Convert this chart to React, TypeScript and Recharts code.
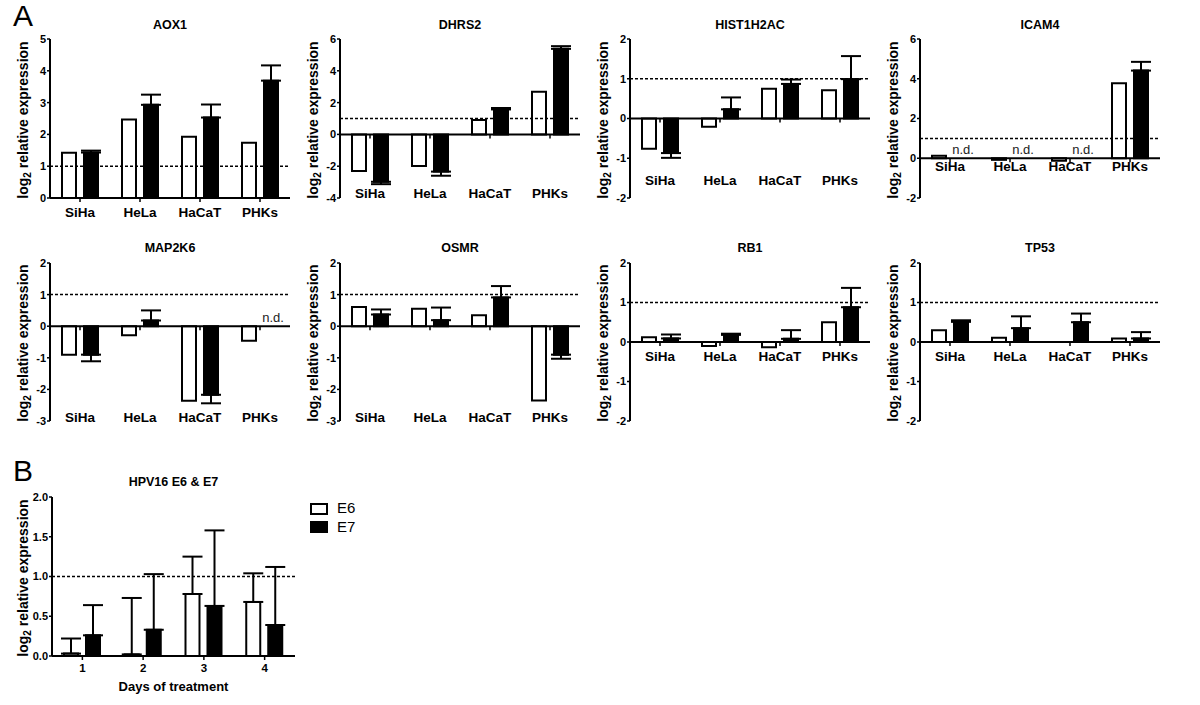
import React from 'react';
import { Bar, BarChart, ErrorBar, ReferenceLine, XAxis, YAxis } from 'recharts';

const FONT = '"Liberation Sans", Arial, Helvetica, sans-serif';

// categories
const cellLines = ['SiHa', 'HeLa', 'HaCaT', 'PHKs'];
const days = ['1', '2', '3', '4'];

// panel A values: open bars, filled bars, filled error (away from zero)
const aox1Open = [1.42, 2.47, 1.93, 1.74];
const aox1Filled = [1.43, 2.93, 2.53, 3.69];
const aox1Err = [0.06, 0.32, 0.41, 0.48];

const dhrs2Open = [-2.3, -1.98, 0.91, 2.68];
const dhrs2Filled = [-2.98, -2.34, 1.57, 5.38];
const dhrs2Err = [0.15, 0.26, 0.09, 0.17];

const histOpen = [-0.76, -0.21, 0.75, 0.71];
const histFilled = [-0.87, 0.23, 0.87, 0.99];
const histErr = [0.12, 0.3, 0.11, 0.58];

const icam4Open = [0.12, -0.08, -0.13, 3.77];
const icam4Filled = [null, null, null, 4.41];
const icam4Err = [0, 0, 0, 0.44];

const map2k6Open = [-0.9, -0.29, -2.36, -0.46];
const map2k6Filled = [-0.9, 0.18, -2.17, null];
const map2k6Err = [0.21, 0.32, 0.27, 0];

const osmrOpen = [0.61, 0.55, 0.35, -2.35];
const osmrFilled = [0.37, 0.19, 0.91, -0.9];
const osmrErr = [0.16, 0.4, 0.36, 0.13];

const rb1Open = [0.12, -0.1, -0.13, 0.5];
const rb1Filled = [0.09, 0.18, 0.08, 0.88];
const rb1Err = [0.1, 0.03, 0.22, 0.49];

const tp53Open = [0.3, 0.11, 0.0, 0.09];
const tp53Filled = [0.51, 0.35, 0.5, 0.09];
const tp53Err = [0.04, 0.3, 0.22, 0.16];

// panel B
const e6 = [0.03, 0.02, 0.78, 0.68];
const e6Err = [0.19, 0.71, 0.47, 0.36];
const e7 = [0.26, 0.33, 0.63, 0.39];
const e7Err = [0.38, 0.7, 0.95, 0.73];

// y ticks
const ticks0to5 = [0, 1, 2, 3, 4, 5];
const ticksM4to6 = [-4, -2, 0, 2, 4, 6];
const ticksM2to2 = [-2, -1, 0, 1, 2];
const ticksM2to6 = [-2, 0, 2, 4, 6];
const ticksM3to2 = [-3, -2, -1, 0, 1, 2];
const ticksB = [0, 0.5, 1, 1.5, 2];

type Spec = {
  title: string;
  categories: string[];
  open: number[];
  filled: (number | null)[];
  filledErr: number[];
  openErr?: number[];
  domain: [number, number];
  ticks: number[];
  left: number;
  top: number;
  width: number;
  height: number;
  axisX: number;
  plotTop: number;
  plotH: number;
  right: number;
  titleTop: number;
  labelY: number;
  catFont: number;
  fmt?: (v: number) => string;
};

const row1 = { top: 0, width: 290, height: 220, axisX: 50, plotTop: 39, plotH: 159, right: 0, titleTop: 17, catFont: 13.5 };
const row2 = { top: 220, width: 290, height: 225, axisX: 50, plotTop: 43, plotH: 158, right: 0, titleTop: 20, catFont: 13.5 };

const panels: Spec[] = [
  { ...row1, title: 'AOX1', categories: cellLines, open: aox1Open, filled: aox1Filled, filledErr: aox1Err, domain: [0, 5], ticks: ticks0to5, left: 0, labelY: 212 },
  { ...row1, title: 'DHRS2', categories: cellLines, open: dhrs2Open, filled: dhrs2Filled, filledErr: dhrs2Err, domain: [-4, 6], ticks: ticksM4to6, left: 290, labelY: 193 },
  { ...row1, title: 'HIST1H2AC', categories: cellLines, open: histOpen, filled: histFilled, filledErr: histErr, domain: [-2, 2], ticks: ticksM2to2, left: 580, labelY: 180 },
  { ...row1, title: 'ICAM4', categories: cellLines, open: icam4Open, filled: icam4Filled, filledErr: icam4Err, domain: [-2, 6], ticks: ticksM2to6, left: 870, labelY: 166 },
  { ...row2, title: 'MAP2K6', categories: cellLines, open: map2k6Open, filled: map2k6Filled, filledErr: map2k6Err, domain: [-3, 2], ticks: ticksM3to2, left: 0, labelY: 197 },
  { ...row2, title: 'OSMR', categories: cellLines, open: osmrOpen, filled: osmrFilled, filledErr: osmrErr, domain: [-3, 2], ticks: ticksM3to2, left: 290, labelY: 197 },
  { ...row2, title: 'RB1', categories: cellLines, open: rb1Open, filled: rb1Filled, filledErr: rb1Err, domain: [-2, 2], ticks: ticksM2to2, left: 580, labelY: 136 },
  { ...row2, title: 'TP53', categories: cellLines, open: tp53Open, filled: tp53Filled, filledErr: tp53Err, domain: [-2, 2], ticks: ticksM2to2, left: 870, labelY: 136 },
];

const hpvPanel: Spec = {
  title: 'HPV16 E6 & E7', categories: days, open: e6, openErr: e6Err, filled: e7, filledErr: e7Err,
  domain: [0, 2], ticks: ticksB, left: 0, top: 460, width: 300, height: 240, axisX: 52, plotTop: 37, plotH: 159,
  right: 5, titleTop: 14, labelY: 208, catFont: 11.5, fmt: (v: number) => v.toFixed(1),
};

// one-sided error: away from zero
const oneSided = (v: number | null, e: number | undefined) =>
  v == null || e == null ? undefined : v >= 0 ? [0, e] : [e, 0];

function GroupPanel({ spec }: { spec: Spec }) {
  const data = spec.categories.map((c, i) => ({
    name: c,
    open: spec.open[i],
    filled: spec.filled[i],
    openErr: spec.openErr ? oneSided(spec.open[i], spec.openErr[i]) : undefined,
    filledErr: oneSided(spec.filled[i], spec.filledErr[i]),
  }));
  const [min, max] = spec.domain;
  const zeroY = spec.plotTop + (spec.plotH * max) / (max - min);
  const plotW = spec.width - spec.axisX - spec.right;

  const renderTick = (p: any) => {
    const i = p.index;
    return (
      <g>
        <line x1={p.x} x2={p.x} y1={zeroY} y2={zeroY + 4} stroke="#000" strokeWidth={1.5} />
        <text x={p.x} y={spec.labelY} dy="0.36em" textAnchor="middle" fontSize={spec.catFont} fontWeight="bold" fill="#000">
          {p.payload.value}
        </text>
        {spec.filled[i] == null && (
          <text x={p.x + 13} y={zeroY - 4} textAnchor="middle" fontSize={13} fill="#222">n.d.</text>
        )}
      </g>
    );
  };

  return (
    <div style={{ position: 'absolute', left: spec.left, top: spec.top, width: spec.width, height: spec.height }}>
      <div style={{ position: 'absolute', left: spec.axisX, width: plotW, top: spec.titleTop, lineHeight: '16px', textAlign: 'center', fontWeight: 'bold', fontSize: 12.5 }}>
        {spec.title}
      </div>
      <div
        style={{
          position: 'absolute', left: 24 - 110, width: 220, top: spec.plotTop + spec.plotH / 2 - 9, lineHeight: '18px',
          textAlign: 'center', transform: 'rotate(-90deg)', fontWeight: 'bold', fontSize: 14, whiteSpace: 'nowrap',
        }}
      >
        log<sub style={{ fontSize: 10, verticalAlign: 'baseline', position: 'relative', top: 3 }}>2</sub> relative expression
      </div>
      <BarChart
        width={spec.width}
        height={spec.height}
        data={data}
        margin={{ top: spec.plotTop, right: spec.right, left: 0, bottom: spec.height - spec.plotTop - spec.plotH - 20 }}
        barSize={14}
        barGap={8}
        style={{ position: 'absolute', left: 0, top: 0 }}
      >
        <XAxis dataKey="name" axisLine={false} tickLine={false} height={20} interval={0} tick={renderTick} />
        <YAxis
          width={spec.axisX}
          domain={spec.domain}
          ticks={spec.ticks}
          interval={0}
          tickFormatter={spec.fmt}
          tickSize={3}
          tickMargin={1}
          axisLine={{ stroke: '#000', strokeWidth: 2 }}
          tickLine={{ stroke: '#000', strokeWidth: 1.5 }}
          tick={{ fontSize: 11, fontWeight: 'bold', fill: '#000' }}
        />
        <ReferenceLine y={1} stroke="#000" strokeWidth={1.5} strokeDasharray="3 2" />
        <Bar dataKey="open" fill="#fff" stroke="#000" strokeWidth={2} isAnimationActive={false}>
          {spec.openErr && <ErrorBar dataKey="openErr" width={10} stroke="#000" strokeWidth={2} isAnimationActive={false} />}
        </Bar>
        <Bar dataKey="filled" fill="#000" stroke="#000" strokeWidth={2} isAnimationActive={false}>
          <ErrorBar dataKey="filledErr" width={10} stroke="#000" strokeWidth={2} isAnimationActive={false} />
        </Bar>
        <ReferenceLine y={0} stroke="#000" strokeWidth={2} />
      </BarChart>
    </div>
  );
}

export default function App() {
  return (
    <div style={{ position: 'absolute', left: 0, top: 0, width: 1200, height: 705, background: '#fff', fontFamily: FONT, color: '#000' }}>
      <div style={{ position: 'absolute', left: 13, top: 1, fontSize: 30, lineHeight: '30px' }}>A</div>
      <div style={{ position: 'absolute', left: 13, top: 456, fontSize: 30, lineHeight: '30px' }}>B</div>
      {panels.map((p) => (
        <GroupPanel key={p.title} spec={p} />
      ))}
      <GroupPanel spec={hpvPanel} />
      <div style={{ position: 'absolute', left: 52, width: 243, top: 679, lineHeight: '16px', textAlign: 'center', fontWeight: 'bold', fontSize: 13 }}>
        Days of treatment
      </div>
      {/* legend */}
      <div style={{ position: 'absolute', left: 310, top: 503, width: 14, height: 8, border: '2px solid #000', background: '#fff' }} />
      <div style={{ position: 'absolute', left: 337, top: 499, fontSize: 15, lineHeight: '18px' }}>E6</div>
      <div style={{ position: 'absolute', left: 310, top: 521, width: 18, height: 12, background: '#000' }} />
      <div style={{ position: 'absolute', left: 337, top: 518, fontSize: 15, lineHeight: '18px' }}>E7</div>
    </div>
  );
}
